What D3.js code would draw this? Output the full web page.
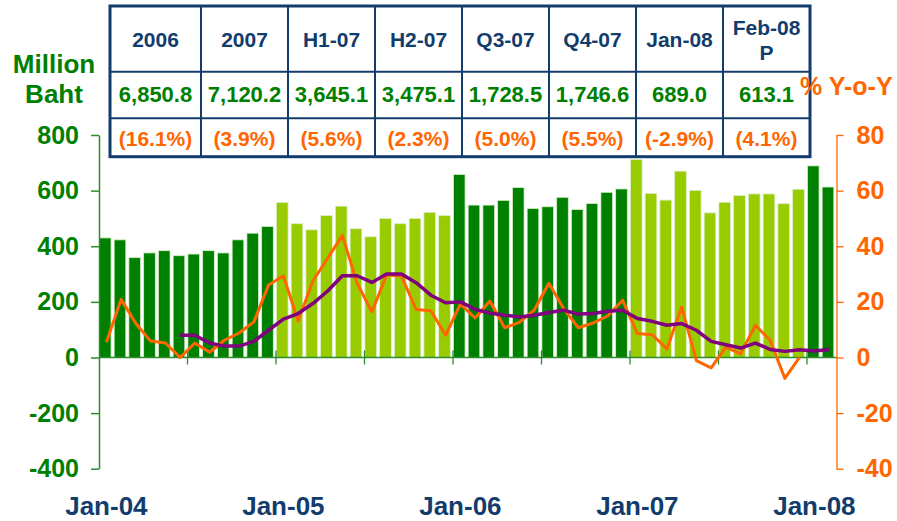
<!DOCTYPE html>
<html>
<head>
<meta charset="utf-8">
<script src="https://cdn.jsdelivr.net/npm/d3@7"></script>
<style>
  body { margin: 0; background: #fff; }
  text { font-family: "Liberation Sans", Arial, sans-serif; font-weight: bold; }
</style>
</head>
<body>
<svg></svg>
<script>
var w = 897;
var h = 521;

var svg = d3.select("svg")
            .attr("width", w)
            .attr("height", h);

// months Jan-04 .. Feb-08
var monthNames = ["Jan","Feb","Mar","Apr","May","Jun","Jul","Aug","Sep","Oct","Nov","Dec"];
var years = ["04","05","06","07","08"];
var months = [];
years.forEach(function (y) {
  monthNames.forEach(function (m) { months.push(m + "-" + y); });
});
months = months.slice(0, 50);

// monthly value, million baht
var values = [
  430, 423, 359, 376, 384, 366, 372, 384, 376, 423, 447, 471,
  557, 481, 459, 510, 544, 463, 434, 500, 481, 500, 522, 510,
  658, 548, 548, 565, 611, 536, 542, 576, 532, 554, 594, 606,
  712, 590, 566, 670, 601, 520, 558, 582, 588, 588, 553, 605,
  689, 613
];

// % y-o-y, monthly
var yoy = [
  5.5, 20.9, 12.2, 5.9, 5.2, 0, 5.2, 1.9, 6.2, 8.8, 12.8, 26.1,
  29.4, 13.1, 27.5, 35.7, 43.9, 26.7, 16.4, 29.7, 29.3, 17.3, 16.8, 8.0,
  19.2, 14.2, 20.3, 10.7, 12.6, 17.0, 26.7, 17.6, 10.7, 12.4, 15.0, 20.6,
  8.6, 8.2, 3.1, 18.2, -1.1, -3.7, 3.7, 1.3, 11.6, 6.2, -7.5, 0.1,
  null, null
];

// % y-o-y, moving average
var yoyAvg = [
  null, null, null, null, null,
  8.0, 8.0, 5.2, 4.1, 4.1, 5.8, 9.8,
  13.8, 15.8, 19.4, 23.9, 29.4, 29.4, 27.0, 30.0, 30.0, 26.9, 22.4, 19.7,
  20.0, 17.3, 16.0, 15.2, 14.6, 15.2, 16.2, 17.0, 15.6, 15.8, 16.6, 17.0,
  14.0, 13.0, 11.6, 12.2, 9.8, 5.8, 4.6, 3.4, 5.2, 2.9, 2.2, 2.8,
  2.3, 2.9
];

var lightYears = ["05", "07"];
var xLabels = ["Jan-04", "Jan-05", "Jan-06", "Jan-07", "Jan-08"];
var leftTicks = [-400, -200, 0, 200, 400, 600, 800];
var rightTicks = [-40, -20, 0, 20, 40, 60, 80];

var tableHeads = ["2006", "2007", "H1-07", "H2-07", "Q3-07", "Q4-07", "Jan-08", "Feb-08|P"];
var tableValues = ["6,850.8", "7,120.2", "3,645.1", "3,475.1", "1,728.5", "1,746.6", "689.0", "613.1"];
var tableChanges = ["(16.1%)", "(3.9%)", "(5.6%)", "(2.3%)", "(5.0%)", "(5.5%)", "(-2.9%)", "(4.1%)"];

var green = "#008000";
var lightGreen = "#99cc00";
var orange = "#ff6600";
var purple = "#800080";
var navy = "#123c6c";

var plotL = 99, plotR = 836.5, plotT = 135, plotB = 468.75;

var x = d3.scaleBand().domain(months).range([plotL, plotR]).padding(0);
var y = d3.scaleLinear().domain([-400, 800]).range([plotB, plotT]);
var y2 = d3.scaleLinear().domain([-40, 80]).range([plotB, plotT]);
var bw = x.bandwidth();

// plain hyphen for negatives, like the original
var plain = function (d) { return String(d); };

// bars
svg.append("g").selectAll("rect")
  .data(months)
  .join("rect")
    .attr("x", function (d) { return x(d) + 0.4; })
    .attr("y", function (d, i) { return y(values[i]); })
    .attr("width", bw * 0.79)
    .attr("height", function (d, i) { return y(0) - y(values[i]); })
    .attr("fill", function (d) {
      return lightYears.indexOf(d.slice(4)) >= 0 ? lightGreen : green;
    })
    .attr("stroke", "#d8efc8")
    .attr("stroke-width", 0.8);

// zero line and month ticks
svg.append("line")
  .attr("x1", plotL).attr("x2", plotR)
  .attr("y1", y(0)).attr("y2", y(0))
  .attr("stroke", "#2e8b2e").attr("stroke-width", 1.5);

svg.append("g").selectAll("line")
  .data(months.filter(function (d, i) { return i > 0 && i % 6 === 0; }))
  .join("line")
    .attr("x1", function (d) { return x(d); })
    .attr("x2", function (d) { return x(d); })
    .attr("y1", y(0) - 7)
    .attr("y2", y(0) + 7)
    .attr("stroke", "#2e8b2e").attr("stroke-width", 1.3);

// lines
var line1 = d3.line()
  .defined(function (d) { return d != null; })
  .x(function (d, i) { return x(months[i]) + bw / 2; })
  .y(function (d) { return y2(d); });

svg.append("path")
  .attr("d", line1(yoy))
  .attr("fill", "none")
  .attr("stroke", orange)
  .attr("stroke-width", 3)
  .attr("stroke-linejoin", "round");

svg.append("path")
  .attr("d", line1(yoyAvg))
  .attr("fill", "none")
  .attr("stroke", purple)
  .attr("stroke-width", 3.5)
  .attr("stroke-linejoin", "round");

// left axis
var gl = svg.append("g")
  .attr("transform", "translate(" + plotL + ",0)")
  .call(d3.axisLeft(y).tickValues(leftTicks).tickFormat(plain)
        .tickSize(8).tickSizeOuter(0).tickPadding(12));
gl.select(".domain").attr("stroke", "#2e8b2e").attr("stroke-width", 1.5);
gl.selectAll(".tick line").attr("stroke", "#2e8b2e").attr("stroke-width", 1.5);
gl.selectAll(".tick text")
  .attr("fill", green)
  .style("font-size", "25px")
  .style("font-family", "'Liberation Sans', Arial, sans-serif")
  .style("font-weight", "bold");

// right axis
var gr = svg.append("g")
  .attr("transform", "translate(" + plotR + ",0)")
  .call(d3.axisRight(y2).tickValues(rightTicks).tickFormat(plain)
        .tickSize(7).tickSizeOuter(0).tickPadding(13));
gr.select(".domain").attr("stroke", orange).attr("stroke-width", 1.3);
gr.selectAll(".tick line").attr("stroke", orange).attr("stroke-width", 1.3);
gr.selectAll(".tick text")
  .attr("fill", orange)
  .style("font-size", "25px")
  .style("font-family", "'Liberation Sans', Arial, sans-serif")
  .style("font-weight", "bold");

// month labels
var gx = svg.append("g")
  .attr("transform", "translate(0,497)")
  .call(d3.axisBottom(x).tickValues(xLabels).tickSize(0).tickPadding(0));
gx.select(".domain").remove();
gx.selectAll(".tick text")
  .attr("fill", navy)
  .attr("dy", "0.71em")
  .style("font-size", "26px")
  .style("font-family", "'Liberation Sans', Arial, sans-serif")
  .style("font-weight", "bold");

// axis title
svg.append("text").attr("x", 54).attr("y", 73).attr("text-anchor", "middle")
  .attr("fill", green).style("font-size", "26px").text("Million");
svg.append("text").attr("x", 54).attr("y", 103).attr("text-anchor", "middle")
  .attr("fill", green).style("font-size", "26px").text("Baht");

// summary table
var tx = 110, ty = 6;
var colW = [91, 87, 87, 87, 87, 87, 87, 87];
var rowH = [65.7, 46.6, 38.4];
var colX = [tx];
colW.forEach(function (c, i) { colX.push(colX[i] + c); });
var rowY = [ty];
rowH.forEach(function (r, i) { rowY.push(rowY[i] + r); });

var table = svg.append("g");
table.append("rect")
  .attr("x", tx).attr("y", ty)
  .attr("width", colX[8] - tx).attr("height", rowY[3] - ty)
  .attr("fill", "#fff");

table.selectAll("line.v")
  .data(colX.slice(1, 8))
  .join("line")
    .attr("class", "v")
    .attr("x1", function (d) { return d; }).attr("x2", function (d) { return d; })
    .attr("y1", ty).attr("y2", rowY[3])
    .attr("stroke", navy).attr("stroke-width", 2);
table.selectAll("line.h")
  .data(rowY.slice(1, 3))
  .join("line")
    .attr("class", "h")
    .attr("x1", tx).attr("x2", colX[8])
    .attr("y1", function (d) { return d; }).attr("y2", function (d) { return d; })
    .attr("stroke", navy).attr("stroke-width", 2);
table.append("rect")
  .attr("x", tx).attr("y", ty)
  .attr("width", colX[8] - tx).attr("height", rowY[3] - ty)
  .attr("fill", "none").attr("stroke", navy).attr("stroke-width", 3);

function cx(i) { return (colX[i] + colX[i + 1]) / 2; }

tableHeads.forEach(function (d, i) {
  var parts = d.split("|");
  var t = table.append("text")
    .attr("text-anchor", "middle")
    .attr("fill", navy)
    .style("font-size", "21px");
  if (parts.length === 1) {
    t.attr("x", cx(i)).attr("y", 47).text(d);
  } else {
    t.append("tspan").attr("x", cx(i)).attr("y", 35).text(parts[0]);
    t.append("tspan").attr("x", cx(i)).attr("y", 60).text(parts[1]);
  }
});
table.selectAll("text.val")
  .data(tableValues)
  .join("text")
    .attr("class", "val")
    .attr("x", function (d, i) { return cx(i); })
    .attr("y", 102)
    .attr("text-anchor", "middle")
    .attr("fill", green)
    .style("font-size", "22px")
    .text(function (d) { return d; });
table.selectAll("text.chg")
  .data(tableChanges)
  .join("text")
    .attr("class", "chg")
    .attr("x", function (d, i) { return cx(i); })
    .attr("y", 146)
    .attr("text-anchor", "middle")
    .attr("fill", orange)
    .style("font-size", "21px")
    .text(function (d) { return d; });

// right axis title, drawn over the table edge
svg.append("text").attr("x", 800).attr("y", 95)
  .attr("fill", orange).style("font-size", "25px").text("% Y-o-Y");
</script>
</body>
</html>
